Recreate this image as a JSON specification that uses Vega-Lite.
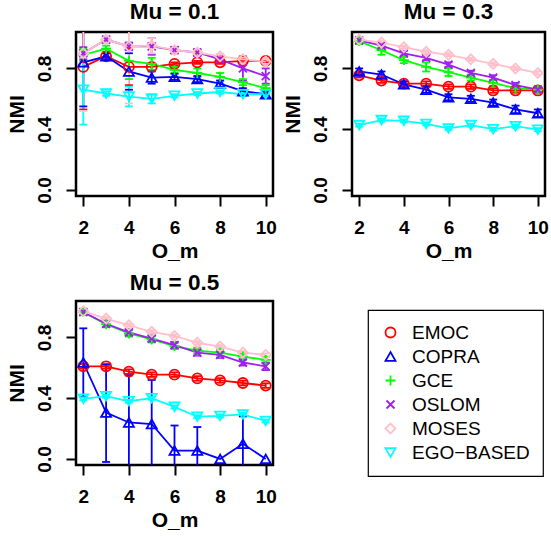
{
"$schema": "https://vega.github.io/schema/vega-lite/v6.json",
"padding": {"left": 4, "top": 0, "right": 0, "bottom": 0},
"background": "white",
"data": {"values": [
{"mu":"Mu = 0.1","m":"EMOC","x":2,"v":0.81,"lo":0.53,"hi":1.09},
{"mu":"Mu = 0.1","m":"EMOC","x":3,"v":0.88,"lo":0.86,"hi":0.90},
{"mu":"Mu = 0.1","m":"EMOC","x":4,"v":0.81,"lo":0.69,"hi":0.93},
{"mu":"Mu = 0.1","m":"EMOC","x":5,"v":0.81,"lo":0.79,"hi":0.83},
{"mu":"Mu = 0.1","m":"EMOC","x":6,"v":0.83,"lo":0.82,"hi":0.84},
{"mu":"Mu = 0.1","m":"EMOC","x":7,"v":0.84,"lo":0.83,"hi":0.85},
{"mu":"Mu = 0.1","m":"EMOC","x":8,"v":0.84,"lo":0.83,"hi":0.85},
{"mu":"Mu = 0.1","m":"EMOC","x":9,"v":0.85,"lo":0.84,"hi":0.86},
{"mu":"Mu = 0.1","m":"EMOC","x":10,"v":0.85,"lo":0.84,"hi":0.86},
{"mu":"Mu = 0.1","m":"COPRA","x":2,"v":0.84,"lo":0.55,"hi":1.13},
{"mu":"Mu = 0.1","m":"COPRA","x":3,"v":0.88,"lo":0.86,"hi":0.90},
{"mu":"Mu = 0.1","m":"COPRA","x":4,"v":0.78,"lo":0.66,"hi":0.90},
{"mu":"Mu = 0.1","m":"COPRA","x":5,"v":0.74,"lo":0.70,"hi":0.78},
{"mu":"Mu = 0.1","m":"COPRA","x":6,"v":0.745,"lo":0.725,"hi":0.765},
{"mu":"Mu = 0.1","m":"COPRA","x":7,"v":0.73,"lo":0.71,"hi":0.75},
{"mu":"Mu = 0.1","m":"COPRA","x":8,"v":0.70,"lo":0.68,"hi":0.72},
{"mu":"Mu = 0.1","m":"COPRA","x":9,"v":0.65,"lo":0.63,"hi":0.67},
{"mu":"Mu = 0.1","m":"COPRA","x":10,"v":0.63,"lo":0.61,"hi":0.65},
{"mu":"Mu = 0.1","m":"GCE","x":2,"v":0.89,"lo":0.85,"hi":0.93},
{"mu":"Mu = 0.1","m":"GCE","x":3,"v":0.93,"lo":0.91,"hi":0.95},
{"mu":"Mu = 0.1","m":"GCE","x":4,"v":0.85,"lo":0.73,"hi":0.97},
{"mu":"Mu = 0.1","m":"GCE","x":5,"v":0.83,"lo":0.79,"hi":0.87},
{"mu":"Mu = 0.1","m":"GCE","x":6,"v":0.79,"lo":0.77,"hi":0.81},
{"mu":"Mu = 0.1","m":"GCE","x":7,"v":0.77,"lo":0.74,"hi":0.80},
{"mu":"Mu = 0.1","m":"GCE","x":8,"v":0.745,"lo":0.72,"hi":0.77},
{"mu":"Mu = 0.1","m":"GCE","x":9,"v":0.71,"lo":0.69,"hi":0.73},
{"mu":"Mu = 0.1","m":"GCE","x":10,"v":0.67,"lo":0.65,"hi":0.69},
{"mu":"Mu = 0.1","m":"OSLOM","x":2,"v":0.90,"lo":0.86,"hi":0.94},
{"mu":"Mu = 0.1","m":"OSLOM","x":3,"v":0.99,"lo":0.97,"hi":1.01},
{"mu":"Mu = 0.1","m":"OSLOM","x":4,"v":0.945,"lo":0.92,"hi":0.97},
{"mu":"Mu = 0.1","m":"OSLOM","x":5,"v":0.945,"lo":0.89,"hi":1.0},
{"mu":"Mu = 0.1","m":"OSLOM","x":6,"v":0.92,"lo":0.90,"hi":0.94},
{"mu":"Mu = 0.1","m":"OSLOM","x":7,"v":0.905,"lo":0.885,"hi":0.925},
{"mu":"Mu = 0.1","m":"OSLOM","x":8,"v":0.86,"lo":0.84,"hi":0.88},
{"mu":"Mu = 0.1","m":"OSLOM","x":9,"v":0.80,"lo":0.72,"hi":0.88},
{"mu":"Mu = 0.1","m":"OSLOM","x":10,"v":0.75,"lo":0.70,"hi":0.80},
{"mu":"Mu = 0.1","m":"MOSES","x":2,"v":0.90,"lo":0.52,"hi":1.28},
{"mu":"Mu = 0.1","m":"MOSES","x":3,"v":0.99,"lo":0.97,"hi":1.01},
{"mu":"Mu = 0.1","m":"MOSES","x":4,"v":0.945,"lo":0.57,"hi":1.32},
{"mu":"Mu = 0.1","m":"MOSES","x":5,"v":0.95,"lo":0.90,"hi":1.0},
{"mu":"Mu = 0.1","m":"MOSES","x":6,"v":0.92,"lo":0.905,"hi":0.935},
{"mu":"Mu = 0.1","m":"MOSES","x":7,"v":0.905,"lo":0.89,"hi":0.92},
{"mu":"Mu = 0.1","m":"MOSES","x":8,"v":0.88,"lo":0.865,"hi":0.895},
{"mu":"Mu = 0.1","m":"MOSES","x":9,"v":0.86,"lo":0.845,"hi":0.875},
{"mu":"Mu = 0.1","m":"MOSES","x":10,"v":0.845,"lo":0.83,"hi":0.86},
{"mu":"Mu = 0.1","m":"EGO−BASED","x":2,"v":0.66,"lo":0.43,"hi":0.89},
{"mu":"Mu = 0.1","m":"EGO−BASED","x":3,"v":0.635,"lo":0.62,"hi":0.65},
{"mu":"Mu = 0.1","m":"EGO−BASED","x":4,"v":0.615,"lo":0.55,"hi":0.68},
{"mu":"Mu = 0.1","m":"EGO−BASED","x":5,"v":0.60,"lo":0.57,"hi":0.63},
{"mu":"Mu = 0.1","m":"EGO−BASED","x":6,"v":0.62,"lo":0.61,"hi":0.63},
{"mu":"Mu = 0.1","m":"EGO−BASED","x":7,"v":0.635,"lo":0.625,"hi":0.645},
{"mu":"Mu = 0.1","m":"EGO−BASED","x":8,"v":0.645,"lo":0.635,"hi":0.655},
{"mu":"Mu = 0.1","m":"EGO−BASED","x":9,"v":0.63,"lo":0.62,"hi":0.64},
{"mu":"Mu = 0.1","m":"EGO−BASED","x":10,"v":0.63,"lo":0.62,"hi":0.64},

{"mu":"Mu = 0.3","m":"EMOC","x":2,"v":0.755,"lo":0.74,"hi":0.77},
{"mu":"Mu = 0.3","m":"EMOC","x":3,"v":0.72,"lo":0.705,"hi":0.735},
{"mu":"Mu = 0.3","m":"EMOC","x":4,"v":0.70,"lo":0.685,"hi":0.715},
{"mu":"Mu = 0.3","m":"EMOC","x":5,"v":0.70,"lo":0.685,"hi":0.715},
{"mu":"Mu = 0.3","m":"EMOC","x":6,"v":0.68,"lo":0.665,"hi":0.695},
{"mu":"Mu = 0.3","m":"EMOC","x":7,"v":0.68,"lo":0.665,"hi":0.695},
{"mu":"Mu = 0.3","m":"EMOC","x":8,"v":0.655,"lo":0.64,"hi":0.67},
{"mu":"Mu = 0.3","m":"EMOC","x":9,"v":0.655,"lo":0.64,"hi":0.67},
{"mu":"Mu = 0.3","m":"EMOC","x":10,"v":0.655,"lo":0.64,"hi":0.67},
{"mu":"Mu = 0.3","m":"COPRA","x":2,"v":0.78,"lo":0.76,"hi":0.80},
{"mu":"Mu = 0.3","m":"COPRA","x":3,"v":0.76,"lo":0.74,"hi":0.78},
{"mu":"Mu = 0.3","m":"COPRA","x":4,"v":0.695,"lo":0.675,"hi":0.715},
{"mu":"Mu = 0.3","m":"COPRA","x":5,"v":0.66,"lo":0.64,"hi":0.68},
{"mu":"Mu = 0.3","m":"COPRA","x":6,"v":0.61,"lo":0.59,"hi":0.63},
{"mu":"Mu = 0.3","m":"COPRA","x":7,"v":0.60,"lo":0.58,"hi":0.62},
{"mu":"Mu = 0.3","m":"COPRA","x":8,"v":0.575,"lo":0.555,"hi":0.595},
{"mu":"Mu = 0.3","m":"COPRA","x":9,"v":0.53,"lo":0.505,"hi":0.555},
{"mu":"Mu = 0.3","m":"COPRA","x":10,"v":0.505,"lo":0.48,"hi":0.53},
{"mu":"Mu = 0.3","m":"GCE","x":2,"v":0.98,"lo":0.96,"hi":1.0},
{"mu":"Mu = 0.3","m":"GCE","x":3,"v":0.92,"lo":0.89,"hi":0.95},
{"mu":"Mu = 0.3","m":"GCE","x":4,"v":0.855,"lo":0.835,"hi":0.875},
{"mu":"Mu = 0.3","m":"GCE","x":5,"v":0.81,"lo":0.78,"hi":0.84},
{"mu":"Mu = 0.3","m":"GCE","x":6,"v":0.775,"lo":0.75,"hi":0.80},
{"mu":"Mu = 0.3","m":"GCE","x":7,"v":0.74,"lo":0.72,"hi":0.76},
{"mu":"Mu = 0.3","m":"GCE","x":8,"v":0.705,"lo":0.685,"hi":0.725},
{"mu":"Mu = 0.3","m":"GCE","x":9,"v":0.67,"lo":0.65,"hi":0.69},
{"mu":"Mu = 0.3","m":"GCE","x":10,"v":0.66,"lo":0.64,"hi":0.68},
{"mu":"Mu = 0.3","m":"OSLOM","x":2,"v":0.985,"lo":0.97,"hi":1.0},
{"mu":"Mu = 0.3","m":"OSLOM","x":3,"v":0.95,"lo":0.935,"hi":0.965},
{"mu":"Mu = 0.3","m":"OSLOM","x":4,"v":0.90,"lo":0.885,"hi":0.915},
{"mu":"Mu = 0.3","m":"OSLOM","x":5,"v":0.87,"lo":0.855,"hi":0.885},
{"mu":"Mu = 0.3","m":"OSLOM","x":6,"v":0.825,"lo":0.81,"hi":0.84},
{"mu":"Mu = 0.3","m":"OSLOM","x":7,"v":0.77,"lo":0.755,"hi":0.785},
{"mu":"Mu = 0.3","m":"OSLOM","x":8,"v":0.74,"lo":0.725,"hi":0.755},
{"mu":"Mu = 0.3","m":"OSLOM","x":9,"v":0.69,"lo":0.675,"hi":0.705},
{"mu":"Mu = 0.3","m":"OSLOM","x":10,"v":0.66,"lo":0.645,"hi":0.675},
{"mu":"Mu = 0.3","m":"MOSES","x":2,"v":0.99,"lo":0.98,"hi":1.0},
{"mu":"Mu = 0.3","m":"MOSES","x":3,"v":0.97,"lo":0.96,"hi":0.98},
{"mu":"Mu = 0.3","m":"MOSES","x":4,"v":0.94,"lo":0.93,"hi":0.95},
{"mu":"Mu = 0.3","m":"MOSES","x":5,"v":0.91,"lo":0.90,"hi":0.92},
{"mu":"Mu = 0.3","m":"MOSES","x":6,"v":0.89,"lo":0.88,"hi":0.90},
{"mu":"Mu = 0.3","m":"MOSES","x":7,"v":0.86,"lo":0.85,"hi":0.87},
{"mu":"Mu = 0.3","m":"MOSES","x":8,"v":0.83,"lo":0.82,"hi":0.84},
{"mu":"Mu = 0.3","m":"MOSES","x":9,"v":0.80,"lo":0.79,"hi":0.81},
{"mu":"Mu = 0.3","m":"MOSES","x":10,"v":0.77,"lo":0.76,"hi":0.78},
{"mu":"Mu = 0.3","m":"EGO−BASED","x":2,"v":0.427,"lo":0.417,"hi":0.437},
{"mu":"Mu = 0.3","m":"EGO−BASED","x":3,"v":0.46,"lo":0.45,"hi":0.47},
{"mu":"Mu = 0.3","m":"EGO−BASED","x":4,"v":0.455,"lo":0.445,"hi":0.465},
{"mu":"Mu = 0.3","m":"EGO−BASED","x":5,"v":0.435,"lo":0.425,"hi":0.445},
{"mu":"Mu = 0.3","m":"EGO−BASED","x":6,"v":0.405,"lo":0.395,"hi":0.415},
{"mu":"Mu = 0.3","m":"EGO−BASED","x":7,"v":0.427,"lo":0.417,"hi":0.437},
{"mu":"Mu = 0.3","m":"EGO−BASED","x":8,"v":0.40,"lo":0.39,"hi":0.41},
{"mu":"Mu = 0.3","m":"EGO−BASED","x":9,"v":0.42,"lo":0.41,"hi":0.43},
{"mu":"Mu = 0.3","m":"EGO−BASED","x":10,"v":0.397,"lo":0.387,"hi":0.407},

{"mu":"Mu = 0.5","m":"EMOC","x":2,"v":0.61,"lo":0.595,"hi":0.625},
{"mu":"Mu = 0.5","m":"EMOC","x":3,"v":0.61,"lo":0.595,"hi":0.625},
{"mu":"Mu = 0.5","m":"EMOC","x":4,"v":0.575,"lo":0.56,"hi":0.59},
{"mu":"Mu = 0.5","m":"EMOC","x":5,"v":0.555,"lo":0.54,"hi":0.57},
{"mu":"Mu = 0.5","m":"EMOC","x":6,"v":0.555,"lo":0.54,"hi":0.57},
{"mu":"Mu = 0.5","m":"EMOC","x":7,"v":0.53,"lo":0.515,"hi":0.545},
{"mu":"Mu = 0.5","m":"EMOC","x":8,"v":0.517,"lo":0.502,"hi":0.532},
{"mu":"Mu = 0.5","m":"EMOC","x":9,"v":0.50,"lo":0.485,"hi":0.515},
{"mu":"Mu = 0.5","m":"EMOC","x":10,"v":0.483,"lo":0.468,"hi":0.498},
{"mu":"Mu = 0.5","m":"COPRA","x":2,"v":0.635,"lo":0.41,"hi":0.86},
{"mu":"Mu = 0.5","m":"COPRA","x":3,"v":0.305,"lo":-0.02,"hi":0.62},
{"mu":"Mu = 0.5","m":"COPRA","x":4,"v":0.24,"lo":-0.07,"hi":0.55},
{"mu":"Mu = 0.5","m":"COPRA","x":5,"v":0.23,"lo":-0.07,"hi":0.52},
{"mu":"Mu = 0.5","m":"COPRA","x":6,"v":0.055,"lo":-0.11,"hi":0.22},
{"mu":"Mu = 0.5","m":"COPRA","x":7,"v":0.055,"lo":-0.10,"hi":0.21},
{"mu":"Mu = 0.5","m":"COPRA","x":8,"v":0.0,"lo":null,"hi":null},
{"mu":"Mu = 0.5","m":"COPRA","x":9,"v":0.10,"lo":-0.08,"hi":0.28},
{"mu":"Mu = 0.5","m":"COPRA","x":10,"v":0.0,"lo":null,"hi":null},
{"mu":"Mu = 0.5","m":"GCE","x":2,"v":0.967,"lo":0.947,"hi":0.987},
{"mu":"Mu = 0.5","m":"GCE","x":3,"v":0.887,"lo":0.867,"hi":0.907},
{"mu":"Mu = 0.5","m":"GCE","x":4,"v":0.826,"lo":0.806,"hi":0.846},
{"mu":"Mu = 0.5","m":"GCE","x":5,"v":0.787,"lo":0.767,"hi":0.807},
{"mu":"Mu = 0.5","m":"GCE","x":6,"v":0.743,"lo":0.723,"hi":0.763},
{"mu":"Mu = 0.5","m":"GCE","x":7,"v":0.713,"lo":0.693,"hi":0.733},
{"mu":"Mu = 0.5","m":"GCE","x":8,"v":0.70,"lo":0.68,"hi":0.72},
{"mu":"Mu = 0.5","m":"GCE","x":9,"v":0.674,"lo":0.654,"hi":0.694},
{"mu":"Mu = 0.5","m":"GCE","x":10,"v":0.652,"lo":0.632,"hi":0.672},
{"mu":"Mu = 0.5","m":"OSLOM","x":2,"v":0.967,"lo":0.947,"hi":0.987},
{"mu":"Mu = 0.5","m":"OSLOM","x":3,"v":0.89,"lo":0.87,"hi":0.91},
{"mu":"Mu = 0.5","m":"OSLOM","x":4,"v":0.833,"lo":0.813,"hi":0.853},
{"mu":"Mu = 0.5","m":"OSLOM","x":5,"v":0.793,"lo":0.773,"hi":0.813},
{"mu":"Mu = 0.5","m":"OSLOM","x":6,"v":0.75,"lo":0.73,"hi":0.77},
{"mu":"Mu = 0.5","m":"OSLOM","x":7,"v":0.70,"lo":0.68,"hi":0.72},
{"mu":"Mu = 0.5","m":"OSLOM","x":8,"v":0.685,"lo":0.665,"hi":0.705},
{"mu":"Mu = 0.5","m":"OSLOM","x":9,"v":0.635,"lo":0.615,"hi":0.655},
{"mu":"Mu = 0.5","m":"OSLOM","x":10,"v":0.61,"lo":0.585,"hi":0.635},
{"mu":"Mu = 0.5","m":"MOSES","x":2,"v":0.972,"lo":0.962,"hi":0.982},
{"mu":"Mu = 0.5","m":"MOSES","x":3,"v":0.924,"lo":0.914,"hi":0.934},
{"mu":"Mu = 0.5","m":"MOSES","x":4,"v":0.88,"lo":0.87,"hi":0.89},
{"mu":"Mu = 0.5","m":"MOSES","x":5,"v":0.837,"lo":0.827,"hi":0.847},
{"mu":"Mu = 0.5","m":"MOSES","x":6,"v":0.81,"lo":0.80,"hi":0.82},
{"mu":"Mu = 0.5","m":"MOSES","x":7,"v":0.765,"lo":0.755,"hi":0.775},
{"mu":"Mu = 0.5","m":"MOSES","x":8,"v":0.74,"lo":0.73,"hi":0.75},
{"mu":"Mu = 0.5","m":"MOSES","x":9,"v":0.70,"lo":0.69,"hi":0.71},
{"mu":"Mu = 0.5","m":"MOSES","x":10,"v":0.685,"lo":0.675,"hi":0.695},
{"mu":"Mu = 0.5","m":"EGO−BASED","x":2,"v":0.396,"lo":0.386,"hi":0.406},
{"mu":"Mu = 0.5","m":"EGO−BASED","x":3,"v":0.413,"lo":0.403,"hi":0.423},
{"mu":"Mu = 0.5","m":"EGO−BASED","x":4,"v":0.38,"lo":0.37,"hi":0.39},
{"mu":"Mu = 0.5","m":"EGO−BASED","x":5,"v":0.40,"lo":0.39,"hi":0.41},
{"mu":"Mu = 0.5","m":"EGO−BASED","x":6,"v":0.343,"lo":0.333,"hi":0.353},
{"mu":"Mu = 0.5","m":"EGO−BASED","x":7,"v":0.278,"lo":0.268,"hi":0.288},
{"mu":"Mu = 0.5","m":"EGO−BASED","x":8,"v":0.283,"lo":0.273,"hi":0.293},
{"mu":"Mu = 0.5","m":"EGO−BASED","x":9,"v":0.293,"lo":0.283,"hi":0.303},
{"mu":"Mu = 0.5","m":"EGO−BASED","x":10,"v":0.25,"lo":0.24,"hi":0.26}
]},
"columns": 2,
"spacing": {"row": 7, "column": 2},
"concat": [
{"title": "Mu = 0.1", "width": 197, "height": 164,
 "transform": [{"filter": "datum.mu == 'Mu = 0.1'"}],
 "encoding": {
   "x": {"field": "x", "type": "quantitative", "title": "O_m", "scale": {"domain": [1.68, 10.32], "nice": false, "zero": false}, "axis": {"values": [2,4,6,8,10]}},
   "color": {"field": "m", "type": "nominal", "scale": {"domain": ["EMOC","COPRA","GCE","OSLOM","MOSES","EGO−BASED"], "range": ["#FF0000","#0000FF","#00FF00","#A020F0","#FFC0CB","#00FFFF"]}}
 },
 "layer": [
  {"mark": {"type": "rule", "clip": true, "strokeWidth": 1.8}, "encoding": {"y": {"field": "lo", "type": "quantitative", "title": "NMI", "scale": {"domain": [-0.04, 1.04], "nice": false, "zero": false}, "axis": {"values": [0,0.2,0.4,0.6,0.8,1.0], "format": ".1f", "labelExpr": "indexof(['0.0','0.4','0.8'], datum.label) >= 0 ? datum.label : ''"}}, "y2": {"field": "hi"}}},
  {"mark": {"type": "rule", "clip": true, "strokeWidth": 1.8, "xOffset": -4, "x2Offset": 4}, "encoding": {"x2": {"field": "x"}, "y": {"field": "lo", "type": "quantitative"}}},
  {"mark": {"type": "rule", "clip": true, "strokeWidth": 1.8, "xOffset": -4, "x2Offset": 4}, "encoding": {"x2": {"field": "x"}, "y": {"field": "hi", "type": "quantitative"}}},
  {"mark": {"type": "line", "strokeWidth": 1.8}, "encoding": {"y": {"field": "v", "type": "quantitative"}}},
  {"mark": {"type": "point", "filled": false, "strokeWidth": 1.8, "size": 100, "opacity": 1}, "encoding": {"y": {"field": "v", "type": "quantitative"},
    "shape": {"field": "m", "type": "nominal", "scale": {"domain": ["EMOC","COPRA","GCE","OSLOM","MOSES","EGO−BASED"], "range": ["circle","triangle-up","M-1,0L1,0M0,-1L0,1","M-0.8,-0.8L0.8,0.8M-0.8,0.8L0.8,-0.8","diamond","triangle-down"]}}}}
 ]},
{"title": "Mu = 0.3", "width": 193, "height": 164,
 "transform": [{"filter": "datum.mu == 'Mu = 0.3'"}],
 "encoding": {
   "x": {"field": "x", "type": "quantitative", "title": "O_m", "scale": {"domain": [1.68, 10.32], "nice": false, "zero": false}, "axis": {"values": [2,4,6,8,10]}},
   "color": {"field": "m", "type": "nominal"}
 },
 "layer": [
  {"mark": {"type": "rule", "clip": true, "strokeWidth": 1.8}, "encoding": {"y": {"field": "lo", "type": "quantitative", "title": "NMI", "scale": {"domain": [-0.04, 1.04], "nice": false, "zero": false}, "axis": {"values": [0,0.2,0.4,0.6,0.8,1.0], "format": ".1f", "labelExpr": "indexof(['0.0','0.4','0.8'], datum.label) >= 0 ? datum.label : ''"}}, "y2": {"field": "hi"}}},
  {"mark": {"type": "rule", "clip": true, "strokeWidth": 1.8, "xOffset": -4, "x2Offset": 4}, "encoding": {"x2": {"field": "x"}, "y": {"field": "lo", "type": "quantitative"}}},
  {"mark": {"type": "rule", "clip": true, "strokeWidth": 1.8, "xOffset": -4, "x2Offset": 4}, "encoding": {"x2": {"field": "x"}, "y": {"field": "hi", "type": "quantitative"}}},
  {"mark": {"type": "line", "strokeWidth": 1.8}, "encoding": {"y": {"field": "v", "type": "quantitative"}}},
  {"mark": {"type": "point", "filled": false, "strokeWidth": 1.8, "size": 100, "opacity": 1}, "encoding": {"y": {"field": "v", "type": "quantitative"},
    "shape": {"field": "m", "type": "nominal"}}}
 ]},
{"title": "Mu = 0.5", "width": 197, "height": 164,
 "transform": [{"filter": "datum.mu == 'Mu = 0.5'"}],
 "encoding": {
   "x": {"field": "x", "type": "quantitative", "title": "O_m", "scale": {"domain": [1.68, 10.32], "nice": false, "zero": false}, "axis": {"values": [2,4,6,8,10]}},
   "color": {"field": "m", "type": "nominal"}
 },
 "layer": [
  {"mark": {"type": "rule", "clip": true, "strokeWidth": 1.8}, "encoding": {"y": {"field": "lo", "type": "quantitative", "title": "NMI", "scale": {"domain": [-0.04, 1.04], "nice": false, "zero": false}, "axis": {"values": [0,0.2,0.4,0.6,0.8,1.0], "format": ".1f", "labelExpr": "indexof(['0.0','0.4','0.8'], datum.label) >= 0 ? datum.label : ''"}}, "y2": {"field": "hi"}}},
  {"mark": {"type": "rule", "clip": true, "strokeWidth": 1.8, "xOffset": -4, "x2Offset": 4}, "encoding": {"x2": {"field": "x"}, "y": {"field": "lo", "type": "quantitative"}}},
  {"mark": {"type": "rule", "clip": true, "strokeWidth": 1.8, "xOffset": -4, "x2Offset": 4}, "encoding": {"x2": {"field": "x"}, "y": {"field": "hi", "type": "quantitative"}}},
  {"mark": {"type": "line", "strokeWidth": 1.8}, "encoding": {"y": {"field": "v", "type": "quantitative"}}},
  {"mark": {"type": "point", "filled": false, "strokeWidth": 1.8, "size": 100, "opacity": 1}, "encoding": {"y": {"field": "v", "type": "quantitative"},
    "shape": {"field": "m", "type": "nominal"}}}
 ]}
],
"config": {
  "font": "Liberation Sans",
  "view": {"stroke": "black", "strokeWidth": 2.5},
  "title": {"fontSize": 22.5, "fontWeight": "bold", "color": "black", "anchor": "middle", "baseline": "alphabetic", "offset": 7},
  "axis": {"domain": false, "grid": false, "tickColor": "black", "tickWidth": 2, "tickSize": 10, "labelColor": "black", "labelFontWeight": "bold", "labelFontSize": 19, "labelFlush": false, "labelOverlap": false, "titleColor": "black", "titleFontSize": 21, "titleFontWeight": "bold"},
  "axisY": {"labelAngle": -90, "labelAlign": "center", "labelBaseline": "bottom", "labelPadding": 12, "titlePadding": 8},
  "axisX": {"labelPadding": 12, "titlePadding": 3},
  "legend": {"orient": "none", "legendX": 292, "legendY": 278, "title": null, "strokeColor": "black", "strokeWidth": 1.2, "padding": 13, "labelFontSize": 19, "labelColor": "black", "symbolSize": 100, "symbolStrokeWidth": 1.8, "rowPadding": 4, "labelOffset": 12, "symbolFillColor": "transparent"}
}
}
